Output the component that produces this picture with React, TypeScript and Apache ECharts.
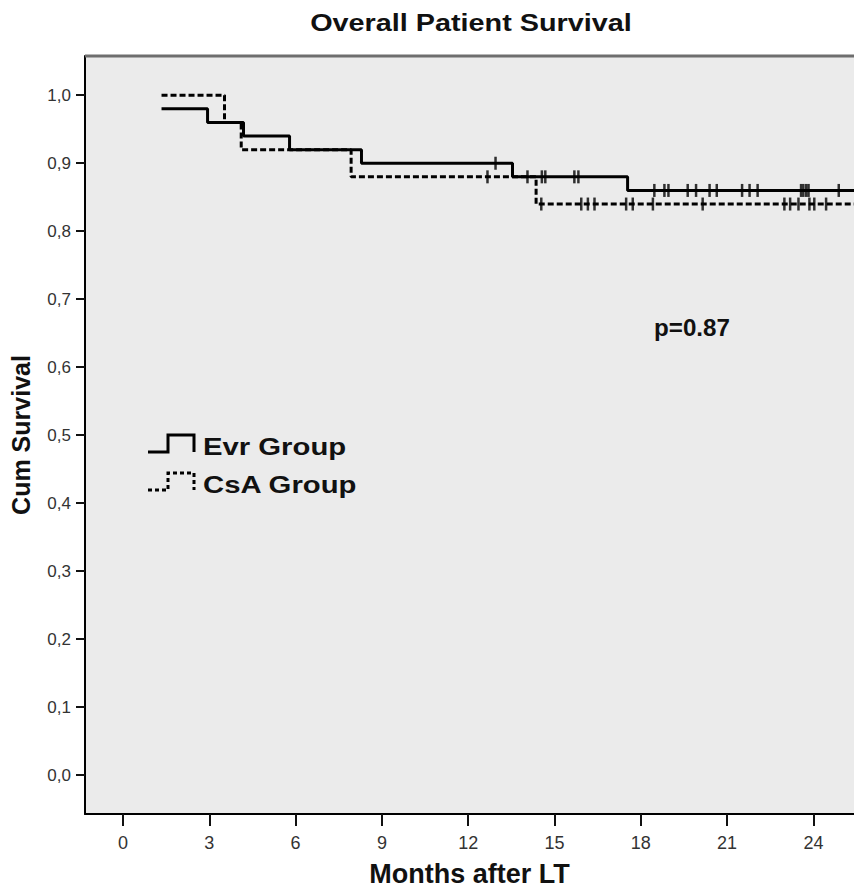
import React, { useEffect, useRef } from "react";
import * as echarts from "echarts";

// Kaplan-Meier step points (months after LT, cumulative survival)
const evrTimes = [1.34, 2.94, 4.19, 5.79, 8.29, 13.54, 17.54, 25.6];
const evrSurv = [0.98, 0.96, 0.94, 0.92, 0.9, 0.88, 0.86, 0.86];
const csaTimes = [1.34, 3.53, 4.11, 7.93, 14.36, 25.6];
const csaSurv = [1.0, 0.96, 0.92, 0.88, 0.84, 0.84];

// Censored observations (months)
const evrCensored = [12.95, 14.56, 14.68, 15.69, 15.83, 18.47, 18.82, 18.96, 19.63, 19.92, 20.39, 20.64, 21.52, 21.78, 22.06, 23.57, 23.65, 23.75, 23.83, 24.88];
const csaCensored = [12.67, 14.06, 14.54, 15.93, 16.16, 16.39, 17.49, 17.72, 18.42, 20.15, 22.99, 23.19, 23.48, 23.86, 24.03, 24.44];

const xTicks = [0, 3, 6, 9, 12, 15, 18, 21, 24];
const yTicks = [0, 0.1, 0.2, 0.3, 0.4, 0.5, 0.6, 0.7, 0.8, 0.9, 1.0];

const titleText = "Overall Patient Survival";
const xName = "Months after LT";
const yName = "Cum Survival";
const legendNames = ["Evr Group", "CsA Group"];
const pText = "p=0.87";

function survAt(times: number[], surv: number[], t: number) {
  let s = surv[0];
  for (let i = 0; i < times.length; i++) if (times[i] <= t) s = surv[i];
  return s;
}

export default function App() {
  const ref = useRef<HTMLDivElement>(null);
  useEffect(() => {
    if (!ref.current) return;
    const chart = echarts.init(ref.current, null, { renderer: "svg" });
    const font = "Liberation Sans";
    chart.setOption({
      animation: false,
      backgroundColor: "#ffffff",
      grid: {
        left: 85,
        right: 0,
        top: 56,
        bottom: 76,
        show: true,
        backgroundColor: "#ebebeb",
        borderWidth: 0,
        outerBoundsMode: "none",
        containLabel: false,
      },
      xAxis: {
        type: "value",
        min: -1.32,
        max: 25.41,
        splitLine: { show: false },
        axisLine: { onZero: false, lineStyle: { color: "#000", width: 2 } },
        axisTick: { customValues: xTicks, length: 12, lineStyle: { color: "#111", width: 2 } },
        axisLabel: {
          customValues: xTicks,
          margin: 20,
          fontSize: 18,
          fontFamily: font,
          color: "#333",
        },
        name: xName,
        nameLocation: "middle",
        nameGap: 46,
        nameTextStyle: { fontSize: 27, fontWeight: "bold", fontFamily: font, color: "#111" },
      },
      yAxis: {
        type: "value",
        min: -0.057,
        max: 1.0577,
        splitLine: { show: false },
        axisLine: { onZero: false, lineStyle: { color: "#000", width: 2 } },
        axisTick: { customValues: yTicks, length: 9, lineStyle: { color: "#111", width: 2 } },
        axisLabel: {
          customValues: yTicks,
          margin: 14,
          fontSize: 17,
          fontFamily: font,
          color: "#333",
          formatter: (v: number) => v.toFixed(1).replace(".", ","),
        },
        name: yName,
        nameLocation: "middle",
        nameRotate: 90,
        nameGap: 52,
        nameTextStyle: { fontSize: 25, fontWeight: "bold", fontFamily: font, color: "#111" },
      },
      series: [
        {
          name: legendNames[0],
          type: "line",
          step: "end",
          showSymbol: false,
          data: evrTimes.map((t, i) => [t, evrSurv[i]]),
          lineStyle: { color: "#000", width: 3, type: "solid" },
          z: 3,
        },
        {
          name: legendNames[1],
          type: "line",
          step: "end",
          showSymbol: false,
          data: csaTimes.map((t, i) => [t, csaSurv[i]]),
          lineStyle: { color: "#000", width: 3, type: [6, 3] },
          z: 2,
        },
        {
          name: legendNames[0] + " censored",
          type: "scatter",
          symbol: "rect",
          symbolSize: [2.5, 13],
          itemStyle: { color: "#000" },
          data: evrCensored.map((t) => [t, survAt(evrTimes, evrSurv, t)]),
          z: 4,
        },
        {
          name: legendNames[1] + " censored",
          type: "scatter",
          symbol: "rect",
          symbolSize: [2.5, 13],
          itemStyle: { color: "#000" },
          data: csaCensored.map((t) => [t, survAt(csaTimes, csaSurv, t)]),
          z: 4,
        },
      ],
      graphic: [
        {
          type: "line",
          shape: { x1: 85, y1: 56, x2: 854, y2: 56 },
          style: { stroke: "#6e6e6e", lineWidth: 3 },
          z: 10,
        },
        {
          type: "text",
          x: 471,
          y: 23,
          scaleX: 1.2,
          style: {
            text: titleText,
            fontSize: 24,
            fontWeight: "bold",
            fontFamily: font,
            fill: "#111",
            align: "center",
            verticalAlign: "middle",
          },
        },
        {
          type: "text",
          x: 692,
          y: 328,
          scaleX: 1.05,
          style: {
            text: pText,
            fontSize: 23,
            fontWeight: "bold",
            fontFamily: font,
            fill: "#111",
            align: "center",
            verticalAlign: "middle",
          },
          z: 10,
        },
        {
          type: "polyline",
          shape: { points: [[148, 452], [168, 452], [168, 435], [194, 435], [194, 452]] },
          style: { stroke: "#000", lineWidth: 3, fill: null },
          z: 10,
        },
        {
          type: "polyline",
          shape: { points: [[148, 490], [168, 490], [168, 473], [194, 473], [194, 490]] },
          style: { stroke: "#000", lineWidth: 3, fill: null, lineDash: [4, 3] },
          z: 10,
        },
        {
          type: "text",
          x: 203,
          y: 447,
          scaleX: 1.22,
          style: {
            text: legendNames[0],
            fontSize: 24,
            fontWeight: "bold",
            fontFamily: font,
            fill: "#111",
            align: "left",
            verticalAlign: "middle",
          },
          z: 10,
        },
        {
          type: "text",
          x: 203,
          y: 485,
          scaleX: 1.22,
          style: {
            text: legendNames[1],
            fontSize: 24,
            fontWeight: "bold",
            fontFamily: font,
            fill: "#111",
            align: "left",
            verticalAlign: "middle",
          },
          z: 10,
        },
      ],
    });
    return () => chart.dispose();
  }, []);
  return (
    <div
      ref={ref}
      style={{ position: "fixed", left: 0, top: 0, width: 854, height: 890 }}
    />
  );
}
